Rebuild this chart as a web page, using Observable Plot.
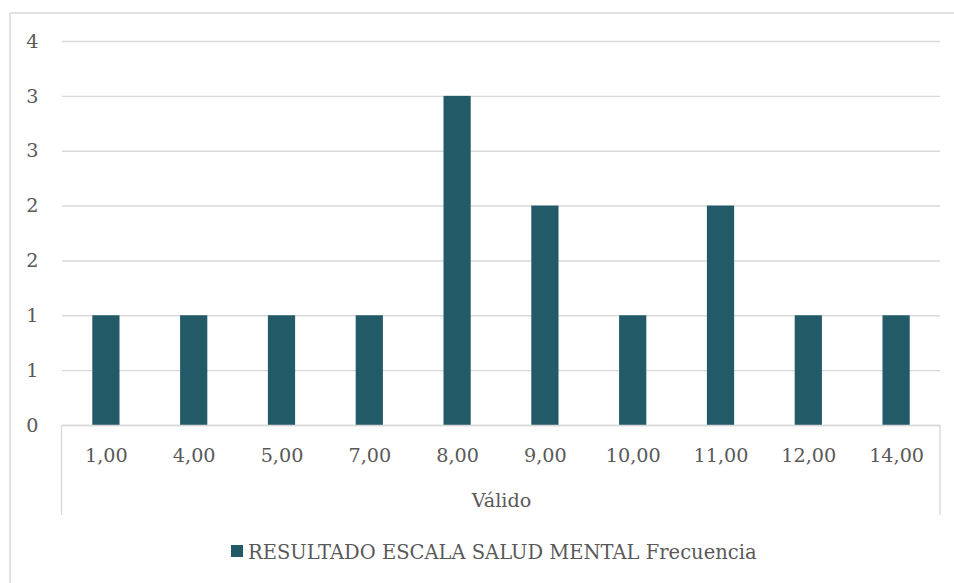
<!DOCTYPE html>
<html>
<head>
<meta charset="utf-8">
<script src="https://cdn.jsdelivr.net/npm/d3@7"></script>
<script src="https://cdn.jsdelivr.net/npm/@observablehq/plot@0.6"></script>
<style>
  html, body { margin: 0; padding: 0; background: #fff; }
  #chart { width: 954px; height: 583px; overflow: hidden; }
</style>
</head>
<body>
<div id="chart"></div>
<script>
// Frequency of each score on the mental-health scale
const categories = ["1,00", "4,00", "5,00", "7,00", "8,00", "9,00", "10,00", "11,00", "12,00", "14,00"];
const frecuencia = [1, 1, 1, 1, 3, 2, 1, 2, 1, 1];
const yTicks = [0, 0.5, 1, 1.5, 2, 2.5, 3, 3.5];
const yTickLabels = ["0", "1", "1", "2", "2", "3", "3", "4"];
const axisTitle = "Válido";
const seriesName = "RESULTADO ESCALA SALUD MENTAL Frecuencia";

const data = categories.map((c, i) => ({cat: c, freq: frecuencia[i]}));

const barColor = "#225a68";
const lineColor = "#d9d9d9";
const textColor = "#595959";
const font = "DejaVu Serif";

const W = 954, H = 583;
const mL = 62, mR = 14, mT = 41, mB = 158;

const plot = Plot.plot({
  width: W,
  height: H,
  marginLeft: mL,
  marginRight: mR,
  marginTop: mT,
  marginBottom: mB,
  style: {fontFamily: font, fontSize: "19.2px", color: textColor, background: "white"},
  x: {domain: categories, paddingInner: 0.69, paddingOuter: 0.345, round: false, label: null},
  y: {domain: [0, 3.5], label: null},
  marks: [
    Plot.gridY(yTicks, {stroke: lineColor, strokeOpacity: 1, strokeWidth: 1.4}),
    Plot.barY(data, {x: "cat", y: "freq", fill: barColor}),
    Plot.ruleY([0], {stroke: lineColor, strokeWidth: 1.4}),
    Plot.axisY(yTicks, {
      tickSize: 0, tickPadding: 24, label: null,
      tickFormat: d => yTickLabels[yTicks.indexOf(d)],
      fill: textColor
    }),
    Plot.axisX({tickSize: 0, tickPadding: 23, label: null, fill: textColor}),
    Plot.text([axisTitle], {frameAnchor: "bottom", dy: 81, fill: textColor, fontSize: 19.2})
  ]
});

document.getElementById("chart").appendChild(plot);

// Chart frame (top and left edges), category group dividers and legend
const svg = d3.select(plot);
const x0 = mL, x1 = W - mR, yBase = H - mB;

svg.append("line")
  .attr("x1", 10).attr("x2", W).attr("y1", 13).attr("y2", 13)
  .attr("stroke", lineColor).attr("stroke-width", 1.6);
svg.append("line")
  .attr("x1", 10).attr("x2", 10).attr("y1", 13).attr("y2", H)
  .attr("stroke", lineColor).attr("stroke-width", 1.6);

[x0 - 0.5, x1].forEach(xv => {
  svg.append("line")
    .attr("x1", xv).attr("x2", xv)
    .attr("y1", yBase).attr("y2", 515)
    .attr("stroke", lineColor).attr("stroke-width", 1.4);
});

const legend = svg.append("g");
legend.append("rect")
  .attr("x", 231).attr("y", 545)
  .attr("width", 12).attr("height", 12)
  .attr("fill", barColor);
legend.append("text")
  .attr("x", 248).attr("y", 559)
  .attr("text-anchor", "start")
  .attr("font-family", font).attr("font-size", 19.5)
  .attr("fill", textColor)
  .text(seriesName);
</script>
</body>
</html>
